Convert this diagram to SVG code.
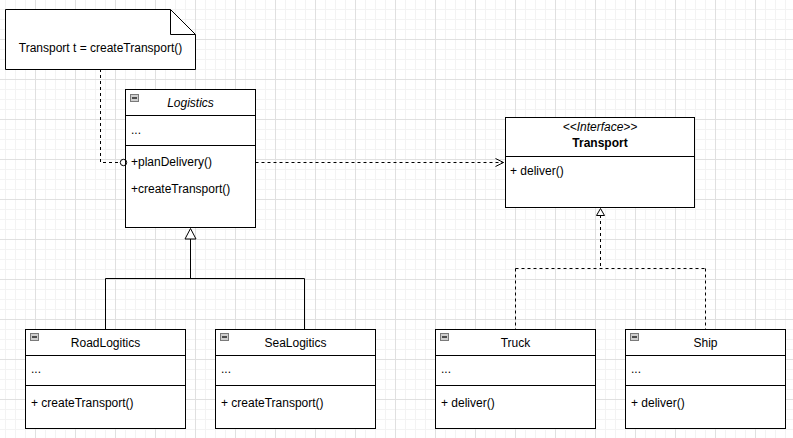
<svg xmlns="http://www.w3.org/2000/svg" width="793" height="438" viewBox="0 0 793 438">
<style>
text{font-family:"Liberation Sans",Arial,sans-serif;font-size:12px;fill:#000}
.box{fill:#fff;stroke:#000;stroke-width:1}
.ln{fill:none;stroke:#000;stroke-width:1}
.dash{fill:none;stroke:#000;stroke-width:1;stroke-dasharray:3 3}
.c{text-anchor:middle}
.ic{fill:#cfcfcf;stroke:#7a7a7a;stroke-width:1}
.icm{stroke:#222;stroke-width:1.5}
</style>
<defs>
<pattern id="grid" x="-5" y="-1" width="40" height="40" patternUnits="userSpaceOnUse">
<path d="M10.5 0V40M20.5 0V40M30.5 0V40M0 10.5H40M0 20.5H40M0 30.5H40" stroke="#f3f3f3" stroke-width="1" fill="none"/>
<path d="M0.5 0V40M0 0.5H40" stroke="#e0e0e0" stroke-width="1" fill="none"/>
</pattern>
<marker id="open" markerWidth="10" markerHeight="10" refX="9" refY="5" orient="auto" markerUnits="userSpaceOnUse">
<path d="M1 1L9 5L1 9" fill="none" stroke="#000" stroke-width="1"/>
</marker>
</defs>
<rect width="793" height="438" fill="#fff"/>
<rect width="793" height="438" fill="url(#grid)"/>

<g id="note">
<path class="box" d="M5.5 9.5H170.5L195.5 34.5V69.5H5.5Z"/>
<path class="ln" d="M170.5 9.5V34.5H195.5"/>
<text class="c" x="100.5" y="52">Transport t = createTransport()</text>
</g>

<g id="logistics">
<rect class="box" x="125.5" y="89.5" width="130" height="138"/>
<path class="ln" d="M125.5 115.5H255.5M125.5 145.5H255.5"/>
<rect class="ic" x="130.5" y="94.5" width="8" height="7"/>
<path class="icm" d="M132 98H137"/>
<text class="c" x="190.5" y="107" font-style="italic">Logistics</text>
<text x="131" y="134">...</text>
<text x="131" y="166">+planDelivery()</text>
<text x="131" y="193">+createTransport()</text>
</g>

<g id="transport">
<rect class="box" x="505.5" y="117.5" width="189" height="90"/>
<path class="ln" d="M505.5 156.5H694.5"/>
<text class="c" x="600" y="131" font-size="11" font-style="italic">&lt;&lt;Interface&gt;&gt;</text>
<text class="c" x="600" y="146.5" font-weight="bold">Transport</text>
<text x="510" y="174.5">+ deliver()</text>
</g>

<g id="roadlogistics">
<rect class="box" x="25.5" y="329.5" width="160" height="99"/>
<path class="ln" d="M25.5 355.5H185.5M25.5 385.5H185.5"/>
<rect class="ic" x="30.5" y="333.5" width="8" height="7"/>
<path class="icm" d="M32 337H37"/>
<text class="c" x="105.5" y="347">RoadLogitics</text>
<text x="31" y="373">...</text>
<text x="31" y="407">+ createTransport()</text>
</g>

<g id="sealogistics">
<rect class="box" x="215.5" y="329.5" width="160" height="99"/>
<path class="ln" d="M215.5 355.5H375.5M215.5 385.5H375.5"/>
<rect class="ic" x="220.5" y="333.5" width="8" height="7"/>
<path class="icm" d="M222 337H227"/>
<text class="c" x="295.5" y="347">SeaLogitics</text>
<text x="221" y="373">...</text>
<text x="221" y="407">+ createTransport()</text>
</g>

<g id="truck">
<rect class="box" x="435.5" y="329.5" width="160" height="99"/>
<path class="ln" d="M435.5 355.5H595.5M435.5 385.5H595.5"/>
<rect class="ic" x="440.5" y="333.5" width="8" height="7"/>
<path class="icm" d="M442 337H447"/>
<text class="c" x="515.5" y="347">Truck</text>
<text x="441" y="373">...</text>
<text x="441" y="407">+ deliver()</text>
</g>

<g id="ship">
<rect class="box" x="625.5" y="329.5" width="160" height="99"/>
<path class="ln" d="M625.5 355.5H785.5M625.5 385.5H785.5"/>
<rect class="ic" x="630.5" y="333.5" width="8" height="7"/>
<path class="icm" d="M632 337H637"/>
<text class="c" x="705.5" y="347">Ship</text>
<text x="631" y="373">...</text>
<text x="631" y="407">+ deliver()</text>
</g>

<g id="connectors">
<path class="dash" d="M100.5 69V162.5H120"/>
<circle cx="123.5" cy="162.5" r="3.2" fill="none" stroke="#000"/>
<path class="dash" d="M255.5 162.5H503.5" marker-end="url(#open)"/>
<path class="ln" d="M190.5 239V278.5M105.5 278.5H304.5M105.5 278.5V329M304.5 278.5V329"/>
<path class="box" d="M190.5 228.5L185 239H196Z"/>
<path class="dash" d="M600.5 215V268.5M515.5 268.5H705.5M515.5 268.5V329M705.5 268.5V329"/>
<path class="box" d="M600.5 208.5L596.5 215.5H604.5Z"/>
</g>
</svg>
